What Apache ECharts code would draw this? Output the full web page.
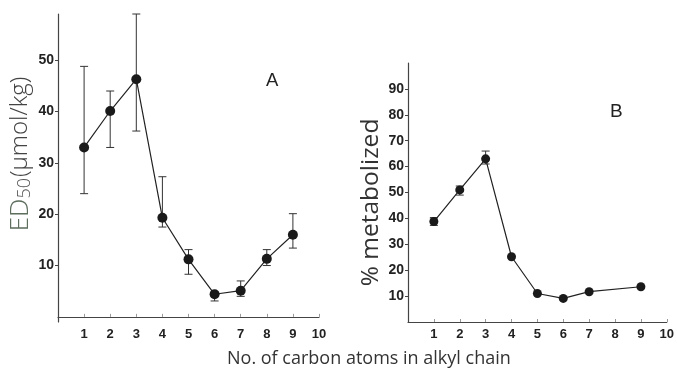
<!DOCTYPE html>
<html>
<head>
<meta charset="utf-8">
<script src="https://cdn.jsdelivr.net/npm/echarts@6/dist/echarts.min.js"></script>
<style>
  html, body { margin: 0; padding: 0; background: #fff; }
  #chart { width: 677px; height: 373px; }
</style>
</head>
<body>
<div id="chart"></div>
<script>
// panel A: ED50 (umol/kg) vs carbon atoms
let carbonA = [1, 2, 3, 4, 5, 6, 7, 8, 9];
let ed50 = [33, 40.1, 46.3, 19.3, 11.2, 4.4, 5.1, 11.3, 16];
let ed50Low = [24, 33, 36.2, 17.5, 8.3, 3.1, 4, 10, 13.4];
let ed50High = [48.8, 44, 59, 27.3, 13.1, 4.9, 7, 13.1, 20.1];

// panel B: % metabolized vs carbon atoms
let carbonB = [1, 2, 3, 4, 5, 6, 7, 9];
let metab = [38.8, 51, 63, 25.2, 11, 9.1, 11.7, 13.6];
let metabLow = [37.3, 49, 61, null, null, null, null, null];
let metabHigh = [40.3, 52.5, 66, null, null, null, null, null];

let xTicks = [1, 2, 3, 4, 5, 6, 7, 8, 9, 10];
let yTicksA = [10, 20, 30, 40, 50];
let yTicksB = [10, 20, 30, 40, 50, 60, 70, 80, 90];

let pairs = function (xs, ys) {
  return xs.map(function (x, i) { return [x, ys[i]]; });
};
let errData = function (xs, lo, hi) {
  let out = [];
  for (let i = 0; i < xs.length; i++) {
    if (lo[i] != null) out.push([xs[i], lo[i], hi[i]]);
  }
  return out;
};

let errorBar = function (params, api) {
  let lo = api.coord([api.value(0), api.value(1)]);
  let hi = api.coord([api.value(0), api.value(2)]);
  let w = 4;
  let style = { stroke: '#333', lineWidth: 1 };
  return {
    type: 'group',
    children: [
      { type: 'line', shape: { x1: lo[0], y1: lo[1], x2: hi[0], y2: hi[1] }, style: style },
      { type: 'line', shape: { x1: lo[0] - w, y1: lo[1], x2: lo[0] + w, y2: lo[1] }, style: style },
      { type: 'line', shape: { x1: hi[0] - w, y1: hi[1], x2: hi[0] + w, y2: hi[1] }, style: style }
    ]
  };
};

let xAxisBase = function (gridIndex) {
  return {
    type: 'value',
    gridIndex: gridIndex,
    min: 0,
    max: 10,
    splitLine: { show: false },
    axisLine: { lineStyle: { color: '#444', width: 1.2 } },
    axisTick: { inside: true, length: 3, customValues: xTicks, lineStyle: { color: '#999' } },
    axisLabel: {
      customValues: xTicks,
      margin: 6,
      color: '#222',
      fontFamily: 'Liberation Sans Narrow, Liberation Sans',
      fontWeight: 'bold',
      fontSize: 13
    }
  };
};

let yAxisBase = function (gridIndex, min, max, ticks) {
  return {
    type: 'value',
    gridIndex: gridIndex,
    min: min,
    max: max,
    splitLine: { show: false },
    axisLine: { show: true, lineStyle: { color: '#444', width: 1.2 } },
    axisTick: { show: true, length: 3, customValues: ticks, lineStyle: { color: '#444' } },
    axisLabel: {
      customValues: ticks,
      margin: 4,
      color: '#222',
      fontFamily: 'Liberation Sans',
      fontWeight: 'bold',
      fontSize: 14
    },
    nameLocation: 'middle',
    nameRotate: 90
  };
};

let yA = yAxisBase(0, -1, 59, yTicksA);
yA.name = '{ed|ED}{sub|50}{u|(μmol/kg)}';
yA.nameGap = 24;
yA.nameTextStyle = {
  rich: {
    ed: { fontSize: 26, color: '#5d6e5d', fontFamily: 'Open Sans', fontWeight: 300, padding: [0, 0, 0, 28] },
    sub: { fontSize: 18, color: '#555', fontFamily: 'Open Sans', fontWeight: 300, verticalAlign: 'bottom', padding: [9, 1, 0, 0] },
    u: { fontSize: 24, color: '#444', fontFamily: 'Open Sans', fontWeight: 300 }
  }
};

let yB = yAxisBase(1, 0, 100, yTicksB);
yB.name = '{t|% metabolized}';
yB.nameGap = 24;
yB.nameTextStyle = {
  rich: {
    t: { fontSize: 24.5, color: '#333', fontFamily: 'Open Sans', padding: [0, 20, 0, 0] }
  }
};

let lineStyle = { color: '#222', width: 1.2 };

let option = {
  backgroundColor: '#fff',
  animation: false,
  title: [
    {
      text: 'No. of carbon atoms in alkyl chain',
      left: 222,
      top: 345,
      textStyle: { fontSize: 18, fontWeight: 'normal', color: '#333', fontFamily: 'Open Sans' }
    },
    { text: 'A', left: 261, top: 66, textStyle: { fontSize: 18.5, fontWeight: 'normal', color: '#222', fontFamily: 'Liberation Sans' } },
    { text: 'B', left: 605, top: 97, textStyle: { fontSize: 19, fontWeight: 'normal', color: '#222', fontFamily: 'Liberation Sans' } }
  ],
  grid: [
    { left: 58, right: 358, top: 14, bottom: 51 },
    { left: 408, right: 10, top: 63, bottom: 51 }
  ],
  xAxis: [xAxisBase(0), xAxisBase(1)],
  yAxis: [yA, yB],
  series: [
    {
      type: 'custom',
      xAxisIndex: 0,
      yAxisIndex: 0,
      renderItem: errorBar,
      data: errData(carbonA, ed50Low, ed50High),
      z: 1
    },
    {
      type: 'line',
      xAxisIndex: 0,
      yAxisIndex: 0,
      data: pairs(carbonA, ed50),
      symbol: 'circle',
      symbolSize: 10,
      itemStyle: { color: '#1a1a1a' },
      lineStyle: lineStyle,
      z: 2
    },
    {
      type: 'custom',
      xAxisIndex: 1,
      yAxisIndex: 1,
      renderItem: errorBar,
      data: errData(carbonB, metabLow, metabHigh),
      z: 1
    },
    {
      type: 'line',
      xAxisIndex: 1,
      yAxisIndex: 1,
      data: pairs(carbonB, metab),
      symbol: 'circle',
      symbolSize: 9,
      itemStyle: { color: '#1a1a1a' },
      lineStyle: lineStyle,
      z: 2
    }
  ]
};

let myChart = echarts.init(document.getElementById('chart'));
myChart.setOption(option);
</script>
</body>
</html>
